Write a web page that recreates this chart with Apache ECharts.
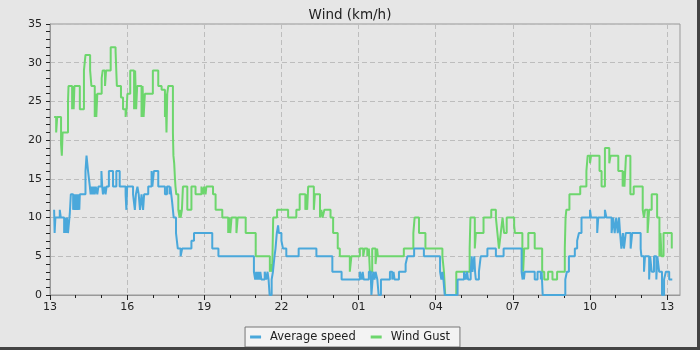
<!DOCTYPE html>
<html>
<head>
<meta charset="utf-8">
<title>Wind (km/h)</title>
<script src="https://cdn.jsdelivr.net/npm/echarts@6/dist/echarts.min.js"></script>
<style>
  html, body { margin: 0; padding: 0; background: #e6e6e6; }
  #chart { width: 700px; height: 350px; }
</style>
</head>
<body>
<div id="chart"></div>
<script>
// x = hours after 13:00, labels every 3 hours
const labelHours = [0, 3, 6, 9, 12, 15, 18, 21, 24]
const timeLabels = ['13', '16', '19', '22', '01', '04', '07', '10', '13']
const hourTicks = [0, 1, 2, 3, 4, 5, 6, 7, 8, 9, 10, 11, 12, 13, 14, 15, 16, 17, 18, 19, 20, 21, 22, 23, 24]

// [hour, km/h] — value holds until the next entry
const gustSteps = [
  [0.16, 23], [0.24, 21], [0.28, 23], [0.43, 19.5], [0.46, 18], [0.49, 21], [0.70, 25], [0.72, 27],
  [0.86, 24], [0.89, 27], [0.92, 24], [0.95, 27], [1.16, 24], [1.32, 29], [1.38, 31], [1.56, 29],
  [1.61, 27], [1.74, 23], [1.77, 26], [1.80, 23], [1.84, 26], [2.01, 28], [2.05, 29], [2.14, 27],
  [2.18, 29], [2.36, 32], [2.55, 31.5], [2.60, 27], [2.76, 25.5], [2.84, 24], [2.94, 23], [2.98, 24],
  [3.01, 26], [3.12, 29], [3.27, 24], [3.31, 29], [3.35, 24], [3.39, 27], [3.56, 23], [3.60, 27],
  [3.64, 23], [3.69, 26], [4.00, 29], [4.21, 27], [4.34, 26.5], [4.47, 23], [4.50, 26], [4.53, 21],
  [4.56, 26], [4.60, 27], [4.78, 21], [4.80, 18], [4.83, 17], [4.86, 15], [4.88, 14], [4.91, 13],
  [4.99, 11], [5.04, 10], [5.06, 11], [5.08, 10], [5.13, 11], [5.17, 14], [5.34, 11], [5.50, 14],
  [5.66, 13], [5.89, 14], [5.95, 13], [5.99, 14], [6.05, 13], [6.08, 14], [6.34, 13], [6.44, 11],
  [6.70, 10], [6.93, 8], [6.97, 10], [7.01, 8], [7.06, 10], [7.25, 8], [7.30, 10], [7.61, 8],
  [8.00, 5], [8.55, 3], [8.60, 4], [8.64, 3], [8.68, 10], [8.83, 11], [9.26, 10], [9.58, 11],
  [9.71, 13], [9.93, 11], [9.96, 13], [10.00, 11], [10.04, 14], [10.26, 11], [10.30, 13], [10.50, 10],
  [10.55, 11], [10.60, 10], [10.67, 11], [10.91, 10], [11.01, 8], [11.19, 6], [11.27, 5], [11.66, 3],
  [11.72, 5], [12.05, 6], [12.18, 5], [12.23, 6], [12.34, 5], [12.40, 6], [12.44, 3], [12.53, 6],
  [12.66, 4], [12.72, 6], [12.75, 5], [13.76, 6], [14.13, 8], [14.18, 10], [14.35, 8], [14.60, 6],
  [15.26, 5], [15.32, 3], [15.37, 0], [15.80, 3], [16.32, 6], [16.35, 10], [16.52, 6], [16.56, 8],
  [16.86, 10], [17.16, 11], [17.34, 10], [17.40, 8], [17.46, 6], [17.53, 8], [17.60, 10], [17.66, 8],
  [17.76, 10], [18.05, 9], [18.08, 8], [18.37, 6], [18.40, 3], [18.44, 6], [18.60, 8], [18.85, 6],
  [19.14, 3], [19.22, 2], [19.37, 3], [19.54, 2], [19.72, 3], [20.02, 6], [20.05, 10], [20.08, 11],
  [20.20, 13], [20.62, 14], [20.86, 16], [20.91, 18], [21.00, 17], [21.04, 18], [21.37, 16], [21.45, 14],
  [21.58, 19], [21.75, 17], [21.80, 18], [22.10, 16], [22.27, 14], [22.30, 16], [22.34, 14], [22.40, 18],
  [22.57, 13], [22.70, 14], [23.05, 11], [23.10, 10], [23.14, 11], [23.24, 8], [23.30, 11], [23.40, 13],
  [23.61, 10], [23.70, 5], [23.74, 8], [23.78, 5], [23.86, 8], [24.18, 6], [24.20, 6]
]

const avgSteps = [
  [0.16, 11], [0.18, 8], [0.21, 10], [0.38, 11], [0.42, 10], [0.55, 8], [0.58, 10], [0.62, 8],
  [0.66, 10], [0.70, 8], [0.77, 10.5], [0.81, 13], [0.90, 11], [0.94, 13], [0.98, 11], [1.02, 13],
  [1.06, 11], [1.10, 13], [1.14, 11], [1.16, 13], [1.38, 16], [1.42, 18], [1.48, 16], [1.55, 14],
  [1.58, 13], [1.62, 14], [1.66, 13], [1.70, 14], [1.74, 13], [1.78, 14], [1.84, 13], [1.88, 14],
  [2.00, 16], [2.03, 14], [2.06, 13], [2.12, 14], [2.16, 13], [2.20, 14], [2.29, 16], [2.45, 14],
  [2.58, 16], [2.71, 14], [2.94, 13], [2.97, 11], [3.00, 14], [3.23, 13], [3.30, 11], [3.34, 13],
  [3.40, 14], [3.45, 13], [3.50, 11], [3.56, 13], [3.62, 11], [3.66, 13], [3.82, 14], [3.95, 16],
  [3.98, 14], [4.04, 16], [4.21, 14], [4.47, 13], [4.55, 14], [4.65, 13], [4.68, 14], [4.75, 12],
  [4.78, 11], [4.81, 10], [4.90, 8], [4.97, 6], [5.08, 5], [5.14, 6], [5.50, 7], [5.60, 8],
  [6.31, 6], [6.55, 5], [7.93, 3], [7.98, 2], [8.02, 3], [8.06, 2], [8.10, 3], [8.14, 2],
  [8.18, 3], [8.22, 2], [8.35, 3], [8.41, 2], [8.46, 3], [8.50, 2], [8.54, 0], [8.62, 2],
  [8.67, 3], [8.73, 5], [8.77, 6], [8.82, 8], [8.87, 9], [8.90, 8], [9.00, 7], [9.06, 6],
  [9.19, 5], [9.67, 6], [10.36, 5], [10.98, 3], [11.34, 2], [12.05, 3], [12.12, 2], [12.16, 3],
  [12.20, 2], [12.40, 3], [12.48, 2], [12.50, 0], [12.57, 3], [12.62, 2], [12.66, 3], [12.73, 2],
  [12.78, 0], [12.87, 2], [13.22, 3], [13.31, 2], [13.36, 3], [13.40, 2], [13.57, 3], [13.83, 4],
  [13.90, 5], [14.16, 6], [14.54, 5], [15.17, 3], [15.22, 2], [15.26, 3], [15.30, 2], [15.35, 0],
  [15.85, 2], [16.10, 3], [16.17, 2], [16.22, 3], [16.26, 2], [16.36, 3], [16.40, 5], [16.43, 3],
  [16.50, 5], [16.53, 3], [16.56, 2], [16.68, 3], [16.75, 5], [17.01, 6], [17.34, 5], [17.64, 6],
  [18.34, 3], [18.38, 2], [18.41, 3], [18.43, 2], [18.46, 3], [18.85, 2], [18.96, 3], [19.09, 2],
  [19.12, 3], [19.16, 0], [20.04, 2], [20.10, 3], [20.18, 5], [20.41, 6], [20.50, 7], [20.57, 8],
  [20.67, 10], [21.00, 11], [21.04, 10], [21.28, 8], [21.32, 10], [21.58, 11], [21.64, 10], [21.84, 8],
  [21.90, 10], [21.96, 8], [22.02, 10], [22.08, 8], [22.13, 10], [22.17, 8], [22.22, 6], [22.28, 8],
  [22.32, 6], [22.39, 8], [22.58, 6], [22.64, 8], [22.97, 6], [23.00, 5], [23.10, 3], [23.14, 5],
  [23.30, 2], [23.34, 5], [23.40, 3], [23.49, 5], [23.58, 2], [23.62, 5], [23.69, 3], [23.80, 0],
  [23.88, 2], [23.95, 3], [24.08, 2], [24.20, 2]
]

const yTicks = [0, 5, 10, 15, 20, 25, 30, 35]

const chart = echarts.init(document.getElementById('chart'))

const option = {
  backgroundColor: '#e6e6e6',
  animation: false,
  textStyle: { fontFamily: 'DejaVu Sans' },
  title: {
    text: 'Wind (km/h)',
    left: 'center',
    top: 3,
    textStyle: { fontSize: 13.5, fontWeight: 'normal', color: '#222', fontFamily: 'DejaVu Sans' }
  },
  legend: {
    data: ['Average speed', 'Wind Gust'],
    left: 'center',
    bottom: 3,
    backgroundColor: '#f3f3f3',
    borderColor: '#777',
    borderWidth: 1,
    padding: [4, 10, 4, 5],
    itemGap: 15,
    itemWidth: 11,
    itemHeight: 3,
    icon: 'rect',
    textStyle: { fontSize: 11.5, color: '#222', padding: [0, 0, 0, 4] }
  },
  grid: {
    left: 50,
    right: 20,
    top: 24,
    bottom: 55,
    show: true,
    borderColor: '#999',
    borderWidth: 1
  },
  xAxis: [
    {
      type: 'value',
      min: 0,
      max: 24.5,
      axisLine: { onZero: false, lineStyle: { color: '#999' } },
      axisTick: { customValues: labelHours, length: 5, lineStyle: { color: '#222' } },
      axisLabel: {
        customValues: labelHours,
        margin: 7,
        fontSize: 11,
        color: '#222',
        formatter: v => timeLabels[labelHours.indexOf(v)] || ''
      },
      splitLine: { show: true, lineStyle: { color: '#bdbdbd', type: [5, 3] } }
    },
    {
      type: 'value',
      min: 0,
      max: 24.5,
      position: 'bottom',
      axisLine: { show: false, onZero: false },
      axisTick: { customValues: hourTicks, length: 3, lineStyle: { color: '#222' } },
      axisLabel: { show: false },
      splitLine: { show: false }
    }
  ],
  yAxis: {
    type: 'value',
    min: 0,
    max: 35,
    interval: 5,
    axisLine: { show: true, lineStyle: { color: '#999' } },
    axisTick: { show: true, length: 4, lineStyle: { color: '#222' } },
    minorTick: { show: true, splitNumber: 5, length: 4, lineStyle: { color: '#222' } },
    axisLabel: {
      margin: 8,
      fontSize: 11,
      color: '#222',
      formatter: v => (yTicks.indexOf(v) >= 0 ? String(v) : '')
    },
    splitLine: { show: true, lineStyle: { color: '#bdbdbd', type: [5, 3] } }
  },
  series: [
    {
      name: 'Average speed',
      type: 'line',
      step: 'end',
      showSymbol: false,
      z: 3,
      color: '#4aa8db',
      lineStyle: { width: 2, color: '#4aa8db' },
      data: avgSteps
    },
    {
      name: 'Wind Gust',
      type: 'line',
      step: 'end',
      showSymbol: false,
      z: 2,
      color: '#6dd66d',
      lineStyle: { width: 2, color: '#6dd66d' },
      data: gustSteps
    }
  ],
  graphic: [
    { type: 'rect', right: 0, top: 0, z: 100, shape: { width: 3, height: 350 }, style: { fill: '#444' } },
    { type: 'rect', left: 0, bottom: 0, z: 100, shape: { width: 700, height: 3 }, style: { fill: '#444' } }
  ]
}

chart.setOption(option)
</script>
</body>
</html>
